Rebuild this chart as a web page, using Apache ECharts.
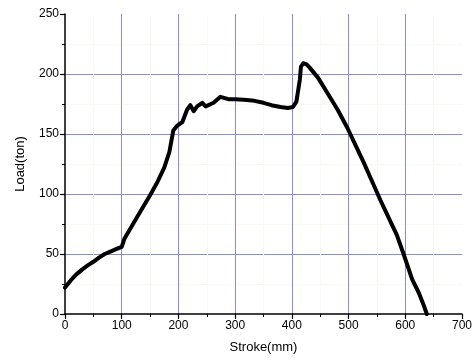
<!DOCTYPE html>
<html>
<head>
<meta charset="utf-8">
<script src="https://cdn.jsdelivr.net/npm/echarts@6/dist/echarts.min.js"></script>
<style>html,body{margin:0;padding:0;background:#fff}#c{width:475px;height:363px}</style>
</head>
<body>
<div id="c"></div>
<script>
var strokeMm = [0,10,20,30,40,50,60,70,80,90,100,103,105,120,135,150,163,175,184,191,198,207,215,221,227,233,242,248,262,274,288,300,315,330,350,364,380,393,402,408,411,414,416,420,426,431,446,463,481,498,512,526,541,556,570,585,597,612,624,632,638];
var loadTon  = [22,28,33,37,40.5,43.5,47,50,52,54,56,57,63,75,87,99,110,122,135,153,157,160,170,174,169,173,176,173,176,181,179,179,178.6,178,176,174,172.5,171.7,172.5,177,186,195,206,209,208,205.5,197,184,170,155,141,127,111,95,81,66,50,29,17.5,8,0];
var xTicks = [0,100,200,300,400,500,600,700];
var yTicks = [0,50,100,150,200,250];

var pts = strokeMm.map(function(x,i){return [x, loadTon[i]];});
var chart = echarts.init(document.getElementById('c'));
var font = 'Liberation Sans, Arial, sans-serif';
chart.setOption({
  animation:false,
  grid:{left:65,right:10,top:14,bottom:49},
  xAxis:{
    type:'value', min:xTicks[0], max:xTicks[xTicks.length-1], interval:100,
    name:'Stroke(mm)', nameLocation:'middle', nameGap:27,
    nameTextStyle:{fontFamily:font,fontSize:13,color:'#000'},
    axisLine:{show:true,lineStyle:{color:'#000',width:1.5}},
    axisTick:{show:true,inside:false,length:5,lineStyle:{color:'#000',width:1.2}},
    minorTick:{show:true,splitNumber:2,length:3,lineStyle:{color:'#000',width:1}},
    axisLabel:{fontFamily:font,fontSize:12,color:'#000',margin:6},
    splitLine:{show:true,showMinLine:false,showMaxLine:false,lineStyle:{color:'#8a8ad8',width:1}},
    minorSplitLine:{show:true,lineStyle:{color:'#f3f3e6',width:1,type:'dotted'}}
  },
  yAxis:{
    type:'value', min:yTicks[0], max:yTicks[yTicks.length-1], interval:50,
    name:'Load(ton)', nameLocation:'middle', nameGap:38, nameRotate:90,
    nameTextStyle:{fontFamily:font,fontSize:13,color:'#000'},
    axisLine:{show:true,lineStyle:{color:'#000',width:1.5}},
    axisTick:{show:true,inside:false,length:5,lineStyle:{color:'#000',width:1.2}},
    minorTick:{show:true,splitNumber:2,length:3,lineStyle:{color:'#000',width:1}},
    axisLabel:{fontFamily:font,fontSize:12,color:'#000',margin:6},
    splitLine:{show:true,showMinLine:false,showMaxLine:false,lineStyle:{color:'#8a8ad8',width:1}},
    minorSplitLine:{show:true,lineStyle:{color:'#f3f3e6',width:1,type:'dotted'}}
  },
  series:[{
    type:'line', data:pts, showSymbol:false, smooth:false,
    lineStyle:{color:'#000',width:4,join:'round',cap:'round'},
    clip:true
  }]
});
</script>
</body>
</html>
